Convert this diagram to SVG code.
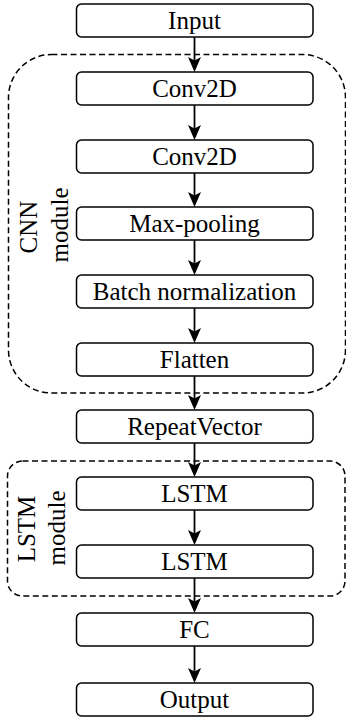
<svg xmlns="http://www.w3.org/2000/svg" width="346" height="719" viewBox="0 0 346 719">
<defs>
<style>
.box{fill:#fff;stroke:#000;stroke-width:1.5}
.mod{fill:none;stroke:#000;stroke-width:1.5;stroke-dasharray:6 3.5}
.lbl{font-family:"Liberation Serif","Times New Roman",serif;font-size:25px;fill:#000;text-anchor:middle}
.conn line{stroke:#000;stroke-width:1.8}
</style>
<marker id="ah" markerWidth="14" markerHeight="18" refX="6" refY="15" orient="auto" markerUnits="userSpaceOnUse" viewBox="0 0 12 16">
</marker>
<path id="head" d="M0,0 L-6.5,-15 L0,-11.5 L6.5,-15 Z" fill="#000"/>
</defs>
<rect fill="#fff" width="346" height="719"/>
<g id="cnn-module">
<rect class="mod" x="8.5" y="54.5" width="337" height="338.5" rx="43" ry="43"/>
<text class="lbl" transform="translate(37,227) rotate(-90)">CNN</text>
<text class="lbl" transform="translate(68,225) rotate(-90)">module</text>
</g>
<g id="lstm-module">
<rect class="mod" x="7.5" y="461" width="337.5" height="135" rx="15" ry="15"/>
<text class="lbl" transform="translate(35,529) rotate(-90)">LSTM</text>
<text class="lbl" transform="translate(65,528) rotate(-90)">module</text>
</g>
<g class="conn" id="connectors">
<line x1="194.5" y1="37" x2="194.5" y2="68"/><use href="#head" x="194.5" y="72"/>
<line x1="194.5" y1="105" x2="194.5" y2="136"/><use href="#head" x="194.5" y="140"/>
<line x1="194.5" y1="173" x2="194.5" y2="203"/><use href="#head" x="194.5" y="207"/>
<line x1="194.5" y1="240" x2="194.5" y2="271"/><use href="#head" x="194.5" y="275"/>
<line x1="194.5" y1="308" x2="194.5" y2="339"/><use href="#head" x="194.5" y="343"/>
<line x1="194.5" y1="376" x2="194.5" y2="406"/><use href="#head" x="194.5" y="410"/>
<line x1="194.5" y1="443" x2="194.5" y2="473"/><use href="#head" x="194.5" y="477"/>
<line x1="194.5" y1="510" x2="194.5" y2="541"/><use href="#head" x="194.5" y="545"/>
<line x1="194.5" y1="578" x2="194.5" y2="609"/><use href="#head" x="194.5" y="613"/>
<line x1="194.5" y1="646" x2="194.5" y2="679"/><use href="#head" x="194.5" y="683"/>
</g>
<g id="n-input"><rect class="box" x="76.5" y="4" width="236.5" height="33" rx="5"/><text class="lbl" x="194.5" y="29">Input</text></g>
<g id="n-conv1"><rect class="box" x="76.5" y="72" width="236.5" height="33" rx="5"/><text class="lbl" x="194.5" y="97">Conv2D</text></g>
<g id="n-conv2"><rect class="box" x="76.5" y="140" width="236.5" height="33" rx="5"/><text class="lbl" x="194.5" y="165">Conv2D</text></g>
<g id="n-maxpool"><rect class="box" x="76.5" y="207" width="236.5" height="33" rx="5"/><text class="lbl" x="194.5" y="232">Max-pooling</text></g>
<g id="n-batchnorm"><rect class="box" x="76.5" y="275" width="236.5" height="33" rx="5"/><text class="lbl" x="194.5" y="300">Batch normalization</text></g>
<g id="n-flatten"><rect class="box" x="76.5" y="343" width="236.5" height="33" rx="5"/><text class="lbl" x="194.5" y="368">Flatten</text></g>
<g id="n-repeat"><rect class="box" x="76.5" y="410" width="236.5" height="33" rx="5"/><text class="lbl" x="194.5" y="435">RepeatVector</text></g>
<g id="n-lstm1"><rect class="box" x="76.5" y="477" width="236.5" height="33" rx="5"/><text class="lbl" x="194.5" y="502">LSTM</text></g>
<g id="n-lstm2"><rect class="box" x="76.5" y="545" width="236.5" height="33" rx="5"/><text class="lbl" x="194.5" y="570">LSTM</text></g>
<g id="n-fc"><rect class="box" x="76.5" y="613" width="236.5" height="33" rx="5"/><text class="lbl" x="194.5" y="638">FC</text></g>
<g id="n-output"><rect class="box" x="76.5" y="683" width="236.5" height="33" rx="5"/><text class="lbl" x="194.5" y="708">Output</text></g>
</svg>
